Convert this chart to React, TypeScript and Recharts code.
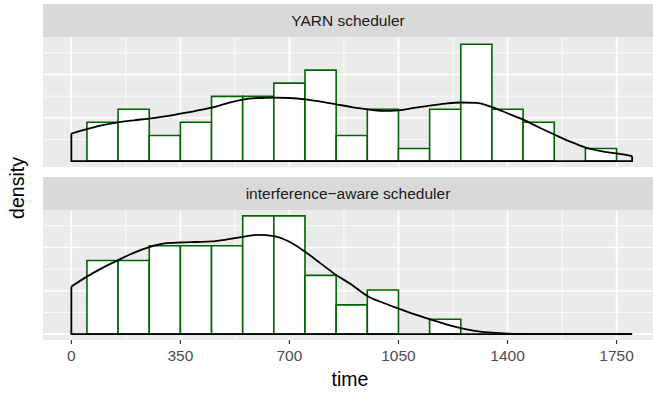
import React from "react";
import { ComposedChart, Line, XAxis, YAxis, CartesianGrid, ReferenceArea } from "recharts";

// facet titles
const facetNames = ["YARN scheduler", "interference\u2212aware scheduler"];

// histogram bins (bin start, width 100) and density heights
const binStarts = [50, 150, 250, 350, 450, 550, 650, 750, 850, 950, 1050, 1150, 1250, 1350, 1450, 1550, 1650];
const yarnBars = [0.000448, 0.000598, 0.000295, 0.000448, 0.000747, 0.000747, 0.0009, 0.00105, 0.000295, 0.000598, 0.000146, 0.000598, 0.001348, 0.000598, 0.000448, 0, 0.000146];
const awareBars = [0.00085, 0.00085, 0.00102, 0.00102, 0.00102, 0.001364, 0.001364, 0.000678, 0.000337, 0.000509, 0, 0.000172, 0, 0, 0, 0, 0];
const binWidth = 100;

// kernel density curve samples
const curveX = [0, 50, 100, 150, 200, 250, 300, 350, 400, 450, 500, 550, 600, 650, 700, 750, 800, 850, 900, 950, 1000, 1050, 1100, 1150, 1200, 1250, 1300, 1350, 1400, 1450, 1500, 1550, 1600, 1650, 1700, 1750, 1800];
const yarnCurve = [0.000318, 0.000368, 0.000414, 0.000448, 0.000471, 0.000491, 0.000517, 0.000548, 0.00058, 0.000617, 0.000667, 0.000709, 0.000728, 0.000732, 0.000728, 0.000713, 0.000686, 0.000655, 0.000624, 0.000598, 0.00058, 0.000586, 0.000613, 0.00064, 0.000663, 0.000676, 0.000672, 0.000622, 0.000552, 0.000479, 0.000391, 0.000307, 0.000226, 0.000157, 0.000115, 0.000088, 0.000057];
const awareCurve = [0.000548, 0.000663, 0.000764, 0.000854, 0.000937, 0.001003, 0.001046, 0.001057, 0.001063, 0.001069, 0.001092, 0.001123, 0.001146, 0.00113, 0.001066, 0.000951, 0.000816, 0.000682, 0.000569, 0.00044, 0.000362, 0.000295, 0.00023, 0.000172, 0.000115, 0.000069, 0.000034, 0.000017, 0.000006, 0.000002, 0, 0, 0, 0, 0, 0, 0];

// axis ticks
const xTicks = [0, 350, 700, 1050, 1400, 1750];
const xMinor = [175, 525, 875, 1225, 1575];
const yMajor = [0, 0.0005, 0.001];
const yMinor = [0.00025, 0.00075, 0.00125];

const X_DOMAIN: [number, number] = [-91, 1867];
const Y_DOMAIN: [number, number] = [-0.0000682, 0.001432];
const FONT = "'Liberation Sans', Arial, Helvetica, sans-serif";

const PANEL_W = 610;
const PANEL_H = 130;

function Facet({ bars, curve, showAxis }: { bars: number[]; curve: number[]; showAxis: boolean }) {
  const curveData = curveX.map((x, i) => ({ x, y: curve[i] }));
  const last = curveX.length - 1;
  const outline = [
    { x: curveX[0], y: curve[0] },
    { x: curveX[0], y: 0 },
    { x: curveX[last], y: 0 },
    { x: curveX[last], y: curve[last] },
  ];
  const axisH = 30;
  return (
    <div style={{ position: "relative", width: PANEL_W, height: PANEL_H + (showAxis ? axisH : 0) }}>
      <div style={{ position: "absolute", left: 0, top: 0, width: PANEL_W, height: PANEL_H, background: "#EBEBEB" }} />
      <div style={{ position: "absolute", left: 0, top: 0 }}>
        <ComposedChart
          width={PANEL_W}
          height={PANEL_H + (showAxis ? axisH : 0)}
          margin={{ top: 0, right: 0, bottom: 0, left: 0 }}
        >
          <CartesianGrid
            stroke="#FFFFFF"
            strokeWidth={0.8}
            verticalValues={xMinor}
            horizontalValues={yMinor}
          />
          <CartesianGrid
            stroke="#FFFFFF"
            strokeWidth={1.6}
            verticalValues={xTicks}
            horizontalValues={yMajor}
          />
          <XAxis
            type="number"
            dataKey="x"
            domain={X_DOMAIN}
            allowDataOverflow
            ticks={xTicks}
            hide={!showAxis}
            height={axisH}
            axisLine={false}
            tickLine={{ stroke: "#333333", strokeWidth: 1.2 }}
            tickSize={4}
            tickMargin={6}
            tick={{ fill: "#4D4D4D", fontSize: 15.5, fontFamily: FONT }}
            interval={0}
          />
          <YAxis type="number" domain={Y_DOMAIN} allowDataOverflow hide />
          {binStarts.map((b, i) =>
            bars[i] > 0 ? (
              <ReferenceArea
                key={b}
                x1={b}
                x2={b + binWidth}
                y1={0}
                y2={bars[i]}
                fill="#FFFFFF"
                fillOpacity={1}
                stroke="#006400"
                strokeWidth={1.6}
                strokeOpacity={1}
              />
            ) : null
          )}
          <Line
            data={outline}
            dataKey="y"
            type="linear"
            stroke="#000000"
            strokeWidth={1.8}
            dot={false}
            activeDot={false}
            isAnimationActive={false}
          />
          <Line
            data={curveData}
            dataKey="y"
            type="monotone"
            stroke="#000000"
            strokeWidth={1.8}
            dot={false}
            activeDot={false}
            isAnimationActive={false}
          />
        </ComposedChart>
      </div>
    </div>
  );
}

function Strip({ label, top }: { label: string; top: number }) {
  return (
    <div
      style={{
        position: "absolute",
        left: 43,
        top,
        width: PANEL_W,
        height: 33,
        background: "#D9D9D9",
        color: "#1A1A1A",
        fontFamily: FONT,
        fontSize: 15.5,
        display: "flex",
        alignItems: "center",
        justifyContent: "center",
      }}
    >
      {label}
    </div>
  );
}

export default function App() {
  return (
    <div style={{ position: "absolute", left: 0, top: 0, width: 653, height: 394, background: "#FFFFFF", overflow: "hidden" }}>
      <div
        style={{
          position: "absolute",
          left: 17,
          top: 188,
          transform: "translate(-50%, -50%) rotate(-90deg)",
          fontFamily: FONT,
          fontSize: 19.5,
          color: "#000000",
          whiteSpace: "nowrap",
        }}
      >
        density
      </div>
      <Strip label={facetNames[0]} top={4} />
      <div style={{ position: "absolute", left: 43, top: 37 }}>
        <Facet bars={yarnBars} curve={yarnCurve} showAxis={false} />
      </div>
      <Strip label={facetNames[1]} top={177} />
      <div style={{ position: "absolute", left: 43, top: 210 }}>
        <Facet bars={awareBars} curve={awareCurve} showAxis={true} />
      </div>
      <div
        style={{
          position: "absolute",
          left: 350,
          top: 379,
          transform: "translate(-50%, -50%)",
          fontFamily: FONT,
          fontSize: 19.5,
          color: "#000000",
          whiteSpace: "nowrap",
        }}
      >
        time
      </div>
    </div>
  );
}
